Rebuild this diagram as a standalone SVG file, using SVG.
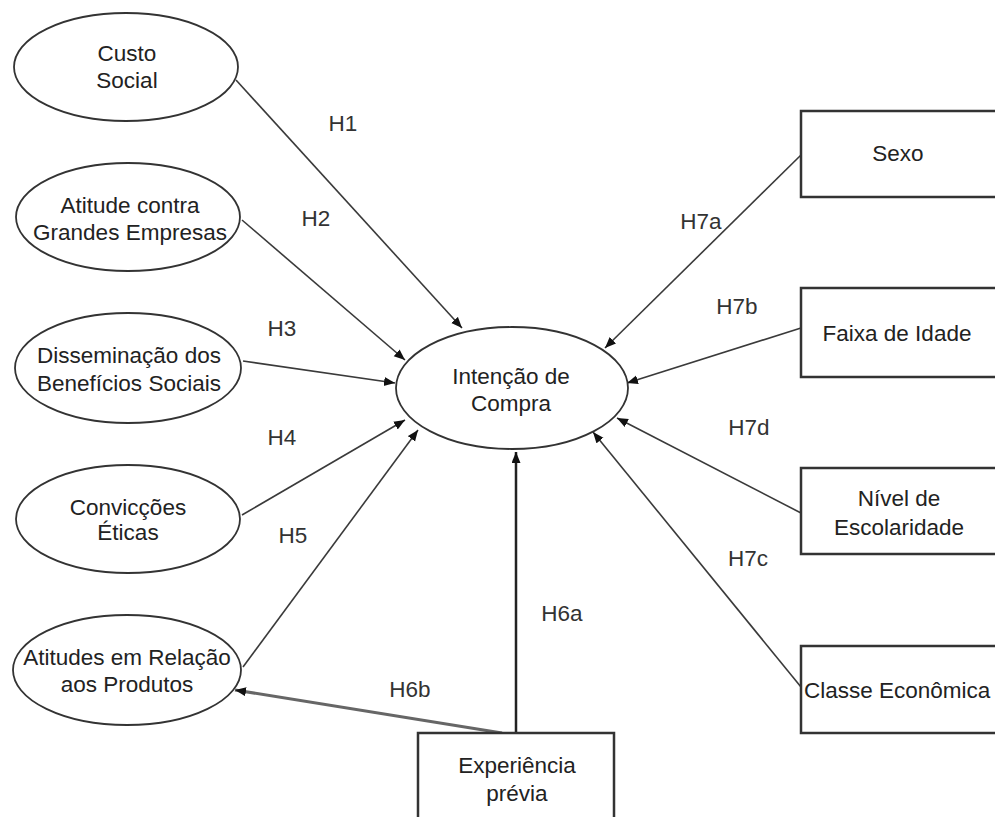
<svg xmlns="http://www.w3.org/2000/svg" width="995" height="817" viewBox="0 0 995 817">
<style>
.bg{fill:#fff}
.ell{fill:#fff;stroke:#333;stroke-width:1.8}
.box{fill:#fff;stroke:#333;stroke-width:2.5}
text{font-family:"Liberation Sans",Arial,sans-serif;font-size:22.5px;fill:#222;text-anchor:middle}
.lbl{fill:#333}
.c{stroke:#3a3a3a;stroke-width:1.6;fill:none;marker-end:url(#ah)}
</style>
<defs>
<marker id="ah" markerUnits="userSpaceOnUse" markerWidth="12" markerHeight="10" refX="11" refY="4.5" orient="auto">
<path d="M0,0 L11,4.5 L0,9 z" fill="#111"/>
</marker>
</defs>
<rect class="bg" x="0" y="0" width="995" height="817"/>
<g id="connectors">
<line class="c" x1="236" y1="80" x2="462" y2="328"/>
<line class="c" x1="242" y1="220" x2="405" y2="360"/>
<line class="c" x1="243" y1="361" x2="395" y2="383"/>
<line class="c" x1="242" y1="515" x2="405" y2="420"/>
<line class="c" x1="243" y1="667" x2="418" y2="430"/>
<line class="c" x1="516" y1="733" x2="516" y2="452" style="stroke:#222;stroke-width:2.5"/>
<line class="c" x1="502" y1="733" x2="235" y2="690" style="stroke:#666;stroke-width:3"/>
<line class="c" x1="801" y1="155" x2="605" y2="348"/>
<line class="c" x1="801" y1="328" x2="627" y2="383"/>
<line class="c" x1="801" y1="513" x2="617" y2="418"/>
<line class="c" x1="801" y1="687" x2="593" y2="432"/>
</g>
<g id="labels">
<text class="lbl" x="343" y="131">H1</text>
<text class="lbl" x="316" y="226">H2</text>
<text class="lbl" x="282" y="336">H3</text>
<text class="lbl" x="282" y="445">H4</text>
<text class="lbl" x="293" y="543">H5</text>
<text class="lbl" x="562" y="621">H6a</text>
<text class="lbl" x="410" y="697">H6b</text>
<text class="lbl" x="701" y="229">H7a</text>
<text class="lbl" x="737" y="314">H7b</text>
<text class="lbl" x="749" y="435">H7d</text>
<text class="lbl" x="748" y="566">H7c</text>
</g>
<g id="custo-social">
<ellipse class="ell" cx="126" cy="67" rx="112" ry="54"/>
<text x="127" y="61">Custo</text>
<text x="127" y="88">Social</text>
</g>
<g id="atitude-contra">
<ellipse class="ell" cx="128" cy="217" rx="112" ry="54"/>
<text x="130" y="213">Atitude contra</text>
<text x="130" y="240">Grandes Empresas</text>
</g>
<g id="disseminacao">
<ellipse class="ell" cx="128" cy="368" rx="113" ry="55"/>
<text x="129" y="363">Disseminação dos</text>
<text x="129" y="391">Benefícios Sociais</text>
</g>
<g id="conviccoes">
<ellipse class="ell" cx="128" cy="519" rx="112" ry="54"/>
<text x="128" y="515">Convicções</text>
<text x="128" y="540">Éticas</text>
</g>
<g id="atitudes-produtos">
<ellipse class="ell" cx="127" cy="670" rx="114" ry="55"/>
<text x="127" y="665">Atitudes em Relação</text>
<text x="127" y="692">aos Produtos</text>
</g>
<g id="intencao-compra">
<ellipse class="ell" cx="512" cy="388" rx="116" ry="61"/>
<text x="511" y="384">Intenção de</text>
<text x="511" y="411">Compra</text>
</g>
<g id="sexo">
<rect class="box" x="801" y="111" width="210" height="86"/>
<text x="898" y="161">Sexo</text>
</g>
<g id="faixa-idade">
<rect class="box" x="801" y="288" width="210" height="89"/>
<text x="897" y="341">Faixa de Idade</text>
</g>
<g id="nivel-escolaridade">
<rect class="box" x="801" y="468" width="210" height="86"/>
<text x="899" y="506">Nível de</text>
<text x="899" y="535">Escolaridade</text>
</g>
<g id="classe-economica">
<rect class="box" x="801" y="646" width="210" height="87"/>
<text x="804" y="698" style="text-anchor:start">Classe Econômica</text>
</g>
<g id="experiencia-previa">
<rect class="box" x="418" y="733" width="196" height="100"/>
<text x="517" y="773">Experiência</text>
<text x="517" y="801">prévia</text>
</g>
</svg>
